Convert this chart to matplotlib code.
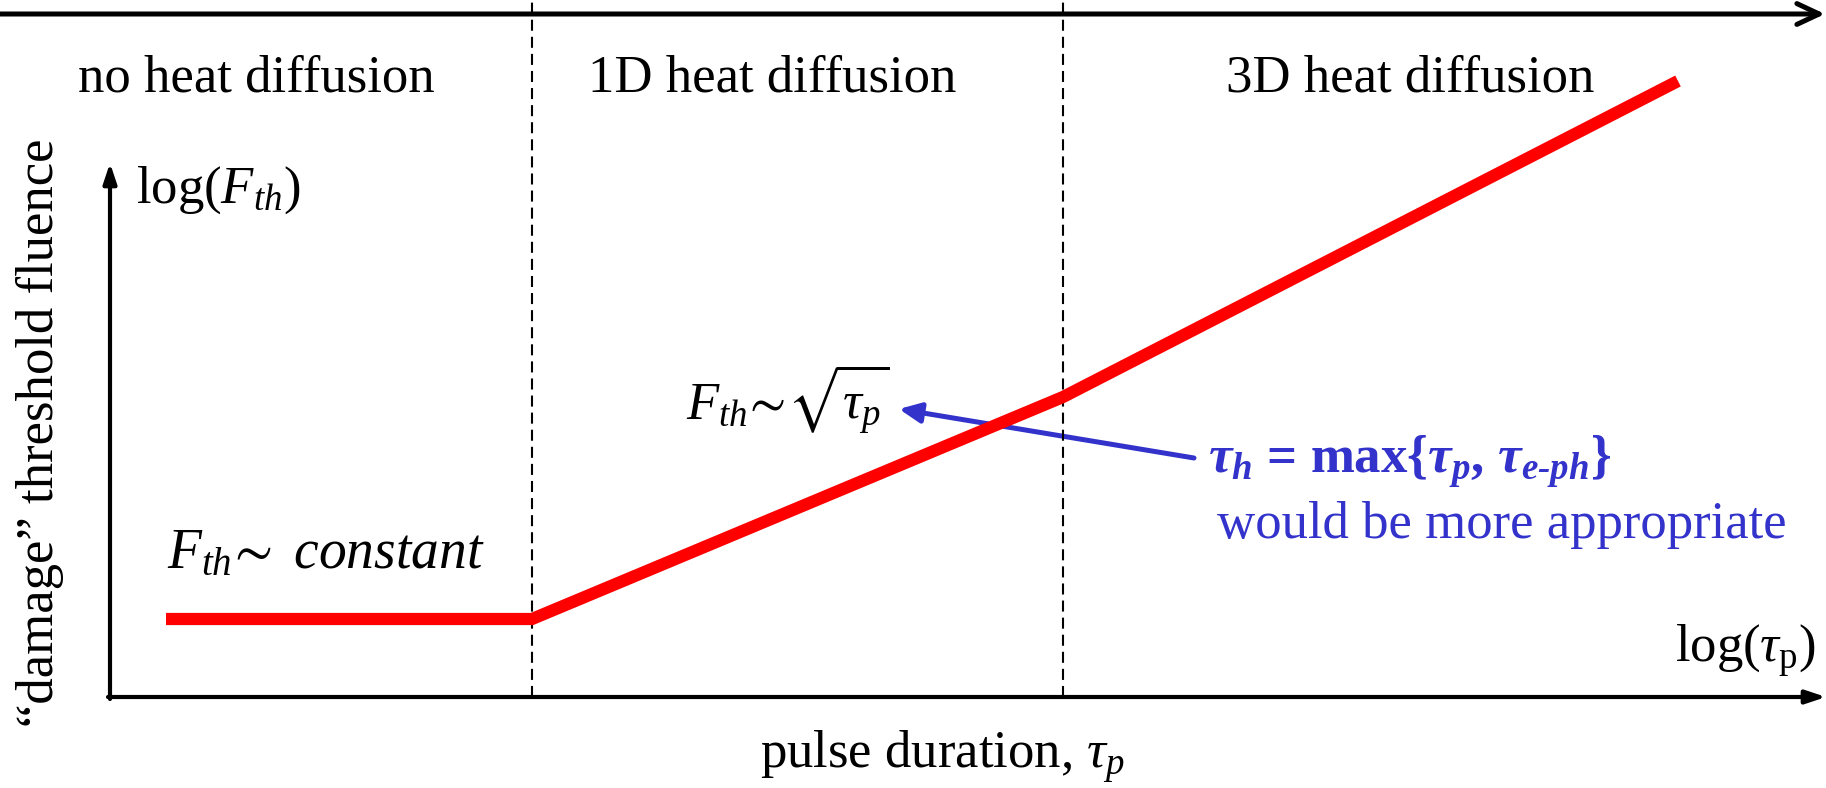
import matplotlib
matplotlib.use("Agg")
import matplotlib.pyplot as plt
from matplotlib.patches import FancyArrowPatch

plt.rcParams['font.family'] = ['Liberation Serif', 'DejaVu Serif']
plt.rcParams['mathtext.fontset'] = 'custom'
plt.rcParams['mathtext.rm'] = 'Liberation Serif'
plt.rcParams['mathtext.it'] = 'Liberation Serif:italic'
plt.rcParams['mathtext.bf'] = 'Liberation Serif:bold:italic'
plt.rcParams['mathtext.fallback'] = 'stix'

# schematic data (figure units: 1 unit = 100 px, origin bottom-left)
log_tau = [1.66, 5.32, 10.63, 16.78]      # red curve breakpoints
log_fth = [1.69, 1.69, 3.91, 7.07]
regime_edges = [5.32, 10.63]
regime_names = ['no heat diffusion', '1D heat diffusion', '3D heat diffusion']
regime_centers = [2.56, 7.72, 14.10]

blue = '#3333cc'
FS = 38
HYPH = '\u2010'

fig = plt.figure(figsize=(18.26, 7.88), dpi=100)
ax = fig.add_axes([0, 0, 1, 1])
ax.set_xlim(0, 18.26)
ax.set_ylim(0, 7.88)
ax.axis('off')

# top "time" arrow
ax.annotate('', xy=(18.25, 7.74), xytext=(0, 7.74),
            arrowprops=dict(arrowstyle='->,head_length=1.6,head_width=0.75',
                            lw=3.6, color='black', shrinkA=0, shrinkB=0,
                            capstyle='round'))

# axes arrows
ax.annotate('', xy=(18.26, 0.91), xytext=(1.08, 0.91),
            arrowprops=dict(arrowstyle='-|>,head_length=1.2,head_width=0.4',
                            lw=3.0, color='black', shrinkA=0, shrinkB=0))
ax.annotate('', xy=(1.10, 6.25), xytext=(1.10, 0.89),
            arrowprops=dict(arrowstyle='-|>,head_length=1.2,head_width=0.4',
                            lw=3.0, color='black', shrinkA=0, shrinkB=0))

# regime boundaries
for xe in regime_edges:
    ax.plot([xe, xe], [0.91, 7.88], color='black', lw=1.5,
            linestyle=(0, (5.3, 2.9)))

for xc, name in zip(regime_centers, regime_names):
    ax.text(xc, 6.96, name, fontsize=FS, ha='center', va='baseline')

# threshold fluence curve
ax.plot(log_tau, log_fth, color='#ff0000', lw=8.8,
        solid_capstyle='butt', solid_joinstyle='miter')

# labels
ax.text(1.36, 5.85, r'log($F_{th}$)', fontsize=FS, ha='left', va='baseline')
ax.text(18.16, 1.26, r'log($\tau_{\mathrm{p}}$)', fontsize=FS, ha='right', va='baseline')
ax.text(9.42, 0.20, r'pulse duration, $\tau_p$', fontsize=FS, ha='center', va='baseline')
ax.text(0.40, 3.55, '\u201cdamage\u201d threshold fluence', fontsize=FS,
        rotation=90, ha='center', va='center')

ax.text(1.67, 2.20, r'$F_{th}\!\sim\ constant$', fontsize=FS + 2, ha='left', va='baseline')
ax.text(6.86, 3.68, r'$F_{th}\!\sim\!\sqrt{\tau_p}$', fontsize=FS, ha='left', va='baseline')

# blue annotation
arr = FancyArrowPatch((11.94, 3.30), (8.99, 3.79),
                      arrowstyle='-|>,head_length=13,head_width=6',
                      lw=3.6, color=blue, shrinkA=0, shrinkB=0,
                      mutation_scale=1)
ax.add_patch(arr)
ax.text(12.08, 3.15,
        r'$\mathbf{\tau_h}$ = max{$\mathbf{\tau_p}$, $\mathbf{\tau_{e' + HYPH + r'ph}}$}',
        fontsize=FS, color=blue, fontweight='bold', ha='left', va='baseline')
ax.text(12.17, 2.50, 'would be more appropriate', fontsize=FS, color=blue,
        ha='left', va='baseline')

fig.savefig('out.png', dpi=100)
